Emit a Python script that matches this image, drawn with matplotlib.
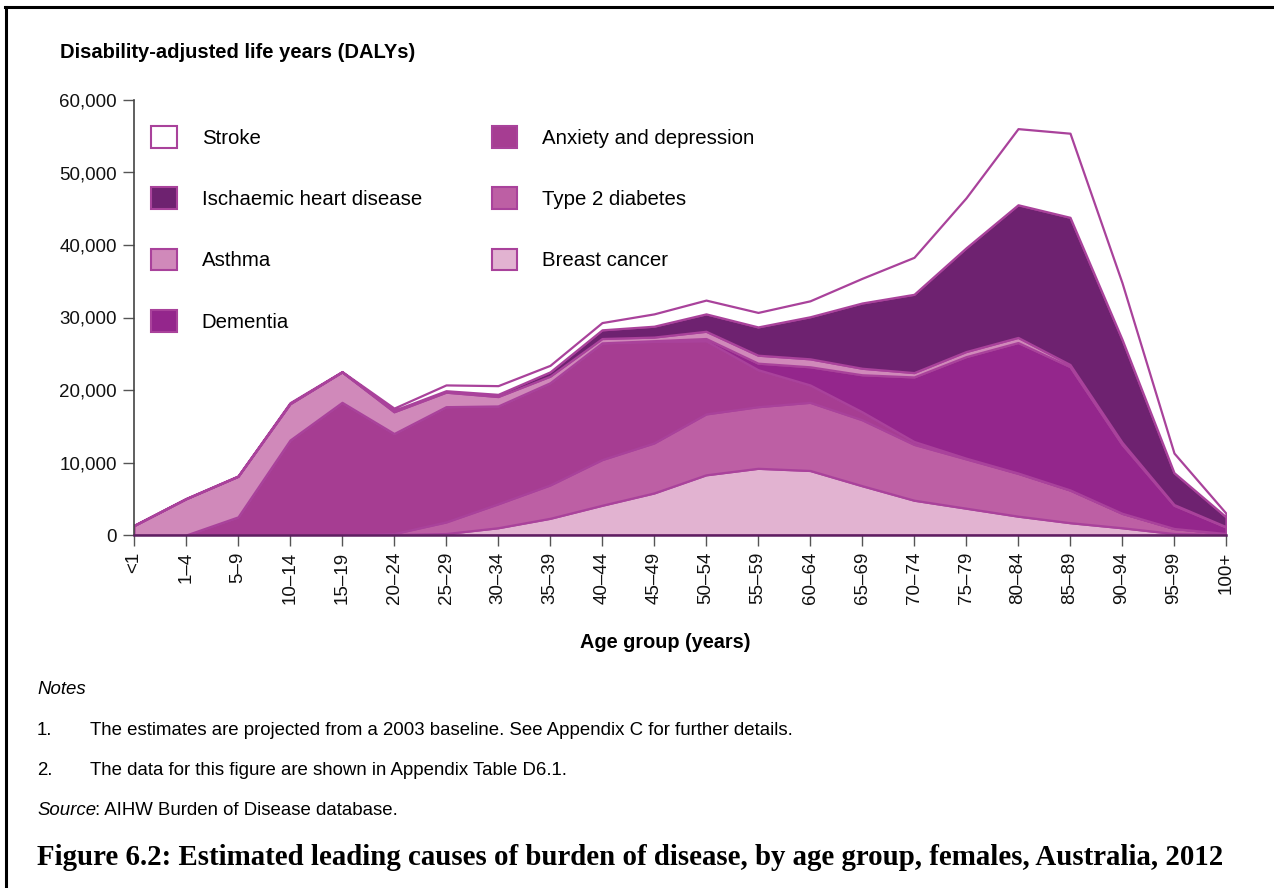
import numpy as np
import matplotlib
matplotlib.use('Agg')
import matplotlib.pyplot as plt
from matplotlib.patches import Patch
from matplotlib.lines import Line2D
from matplotlib.ticker import FuncFormatter

plt.rcParams['font.family'] = ['Liberation Sans', 'DejaVu Sans']

# age groups
ages = ['<1', '1–4', '5–9', '10–14', '15–19', '20–24', '25–29', '30–34', '35–39',
        '40–44', '45–49', '50–54', '55–59', '60–64', '65–69', '70–74', '75–79',
        '80–84', '85–89', '90–94', '95–99', '100+']

# DALYs per cause (stacked bottom to top)
breast = [0, 0, 0, 0, 0, 50, 200, 1000, 2300, 4100, 5800, 8300, 9200, 8900, 6800,
          4800, 3700, 2600, 1700, 1000, 200, 50]
diabetes = [0, 0, 0, 0, 0, 150, 1600, 3300, 4600, 6300, 6900, 8400, 8500, 9400, 9100,
            7700, 6800, 5900, 4500, 2000, 700, 150]
anxiety = [0, 0, 2500, 13100, 18300, 13800, 15900, 13500, 14100, 16100, 14000, 10100,
           5100, 2400, 1100, 400, 100, 50, 20, 0, 0, 0]
dementia = [0, 0, 0, 0, 0, 0, 0, 0, 0, 0, 100, 300, 900, 2500, 5100, 8900, 14000,
            18000, 17000, 9500, 3200, 900]
asthma = [1300, 5000, 5600, 5000, 4200, 3000, 2000, 1300, 900, 600, 500, 1000, 1100,
          1100, 900, 600, 700, 700, 300, 300, 100, 50]
ihd = [0, 0, 0, 50, 0, 200, 200, 300, 600, 1200, 1500, 2400, 3900, 5800, 9000, 10800,
       14300, 18300, 20300, 14200, 4400, 1350]
stroke = [50, 50, 50, 100, 50, 300, 800, 1200, 900, 1000, 1700, 1900, 2000, 2200, 3400,
          5100, 6900, 10500, 11600, 7800, 2700, 500]

line_col = '#A9429B'
c_breast = '#E2B3D1'
c_diab = '#BD5FA4'
c_anx = '#A63D92'
c_dem = '#94268C'
c_asthma = '#D089BA'
c_ihd = '#6E2270'
c_stroke = '#FFFFFF'

fig = plt.figure(figsize=(12.74, 8.88), dpi=100)
ax = fig.add_axes([134 / 1274, 1 - 535 / 888, (1226 - 134) / 1274, (535 - 100) / 888])

x = np.arange(len(ages))
ax.stackplot(x, breast, diabetes, anxiety, dementia, asthma, ihd, stroke,
             colors=[c_breast, c_diab, c_anx, c_dem, c_asthma, c_ihd, c_stroke],
             edgecolor=line_col, linewidth=1.6)

ax.set_xlim(0, len(ages) - 1)
ax.set_ylim(0, 60000)
ax.spines['top'].set_visible(False)
ax.spines['right'].set_visible(False)
ax.spines['left'].set_color('#444444')
ax.spines['left'].set_linewidth(1.2)
ax.spines['bottom'].set_color('#5E1F61')
ax.spines['bottom'].set_linewidth(1.8)

ax.set_yticks(np.arange(0, 60001, 10000))
ax.yaxis.set_major_formatter(FuncFormatter(lambda v, p: f'{int(v):,}'))
ax.set_xticks(x)
ax.set_xticklabels(ages, rotation=90)
ax.tick_params(axis='y', length=8, width=1, color='#555555', pad=4.5, labelsize=13.5,
               labelcolor='#111111')
ax.tick_params(axis='x', length=8, width=1, color='#555555', pad=4, labelsize=13.5,
               labelcolor='#111111')

# legend
labels = ['Stroke', 'Ischaemic heart disease', 'Asthma', 'Dementia',
          'Anxiety and depression', 'Type 2 diabetes', 'Breast cancer']
cols = [c_stroke, c_ihd, c_asthma, c_dem, c_anx, c_diab, c_breast]
handles = [Patch(facecolor=c, edgecolor=line_col, linewidth=1.5) for c in cols]
ax.legend(handles, labels, ncol=2, loc='upper left',
          bbox_to_anchor=(151 / 1274, 1 - 126 / 888), bbox_transform=fig.transFigure,
          frameon=False, fontsize=14.7, handlelength=1.27, handleheight=1.27,
          handletextpad=1.22, labelspacing=1.93, columnspacing=3.4,
          borderpad=0, borderaxespad=0)

fig.text(60 / 1274, 1 - 53 / 888, 'Disability-adjusted life years (DALYs)',
         fontsize=14.5, fontweight='bold', ha='left', va='center')
fig.text(665 / 1274, 1 - 642 / 888, 'Age group (years)', fontsize=14.3,
         fontweight='bold', ha='center', va='center')

# notes
fs = 13.4
fig.text(37 / 1274, 1 - 690 / 888, 'Notes', fontsize=fs, style='italic',
         ha='left', va='center')
fig.text(37 / 1274, 1 - 730 / 888, '1.', fontsize=fs, ha='left', va='center')
fig.text(90 / 1274, 1 - 730 / 888,
         'The estimates are projected from a 2003 baseline. See Appendix C for further details.',
         fontsize=fs, ha='left', va='center')
fig.text(37 / 1274, 1 - 770 / 888, '2.', fontsize=fs, ha='left', va='center')
fig.text(90 / 1274, 1 - 770 / 888, 'The data for this figure are shown in Appendix Table D6.1.',
         fontsize=fs, ha='left', va='center')
src = fig.text(37 / 1274, 1 - 810 / 888, 'Source', fontsize=fs, style='italic',
               ha='left', va='center')
r = fig.canvas.get_renderer()
bb = src.get_window_extent(r)
fig.text((bb.x1 - 1) / 1274, 1 - 810 / 888, ': AIHW Burden of Disease database.',
         fontsize=fs, ha='left', va='center')

title = fig.text(37 / 1274, 1 - 857 / 888,
                 'Figure 6.2: Estimated leading causes of burden of disease, by age group, females, Australia, 2012',
                 fontsize=17, fontweight='bold', family='Liberation Serif',
                 ha='left', va='center')
tw = title.get_window_extent(r).width
title.set_fontsize(17 * (1225 - 37) / tw)

# outer frame (top and left edges)
fig.add_artist(Line2D([6 / 1274, 6 / 1274], [0, 1 - 7 / 888], color='black', lw=2.2,
                      transform=fig.transFigure))
fig.add_artist(Line2D([5 / 1274, 1], [1 - 7 / 888, 1 - 7 / 888], color='black', lw=2.2,
                      transform=fig.transFigure))

fig.savefig('out.png', dpi=100)
